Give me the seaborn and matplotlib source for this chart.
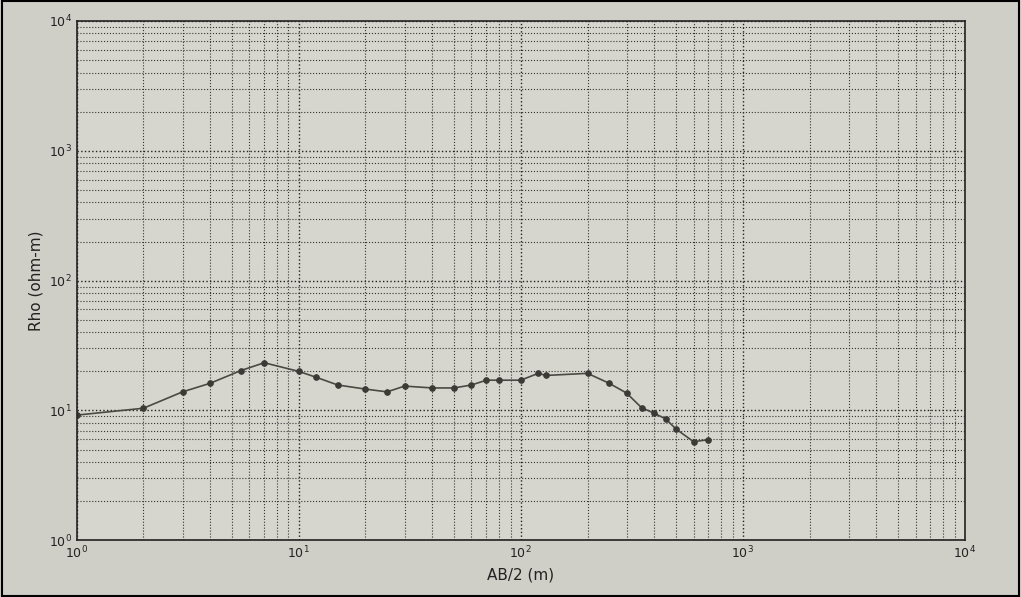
import numpy as np
import pandas as pd
import matplotlib
matplotlib.use("Agg")
import matplotlib.pyplot as plt
import seaborn as sbn
from matplotlib.ticker import LogLocator

# sounding curve
ab2 = [1, 2, 3, 4, 5.5, 7, 10, 12, 15, 20, 25, 30, 40, 50, 60, 70, 80, 100,
       120, 130, 200, 250, 300, 350, 400, 450, 500, 600, 700]
rho = [9.2, 10.4, 13.9, 16.2, 20.3, 23.3, 20.0, 18.0, 15.7, 14.6, 13.9, 15.4,
       14.9, 14.9, 15.7, 17.1, 17.1, 17.1, 19.3, 18.6, 19.3, 16.2, 13.6, 10.5,
       9.5, 8.6, 7.2, 5.75, 5.95]

sounding = pd.DataFrame({"AB/2": ab2, "Rho": rho})

sbn.set_style("white")
plt.rcParams["font.family"] = ["DejaVu Sans"]

fig = plt.figure(figsize=(10.21, 5.97), dpi=100, facecolor="#cfcfc7")
ax = fig.add_axes([0.075, 0.095, 0.87, 0.87])
ax.set_facecolor("#d6d6ce")

sbn.lineplot(data=sounding, x="AB/2", y="Rho", ax=ax, sort=False,
             color="#4a4a44", linewidth=1.2, marker="o", markersize=4,
             markeredgecolor="#3a3a36", markerfacecolor="#3a3a36")

ax.set_xscale("log")
ax.set_yscale("log")
ax.set_xlim(1, 1e4)
ax.set_ylim(1, 1e4)

ax.xaxis.set_minor_locator(LogLocator(base=10, subs=np.arange(2, 10)))
ax.yaxis.set_minor_locator(LogLocator(base=10, subs=np.arange(2, 10)))
ax.grid(True, which="major", linestyle=":", color="#222222", linewidth=1.0)
ax.grid(True, which="minor", linestyle=":", color="#333333", linewidth=0.8)

for s in ax.spines.values():
    s.set_color("#222222")
    s.set_linewidth(1.2)

ax.tick_params(which="both", direction="in", colors="#222222", labelsize=9)
ax.tick_params(which="major", length=5)
ax.tick_params(which="minor", length=3)

ax.set_xlabel("AB/2 (m)", fontsize=11, color="#222222")
ax.set_ylabel("Rho (ohm-m)", fontsize=11, color="#222222")

fig.patches.append(plt.Rectangle((0.002, 0.002), 0.996, 0.996, transform=fig.transFigure,
                                 fill=False, edgecolor="black", linewidth=1.5))

fig.savefig("out.png", dpi=100, facecolor=fig.get_facecolor())
